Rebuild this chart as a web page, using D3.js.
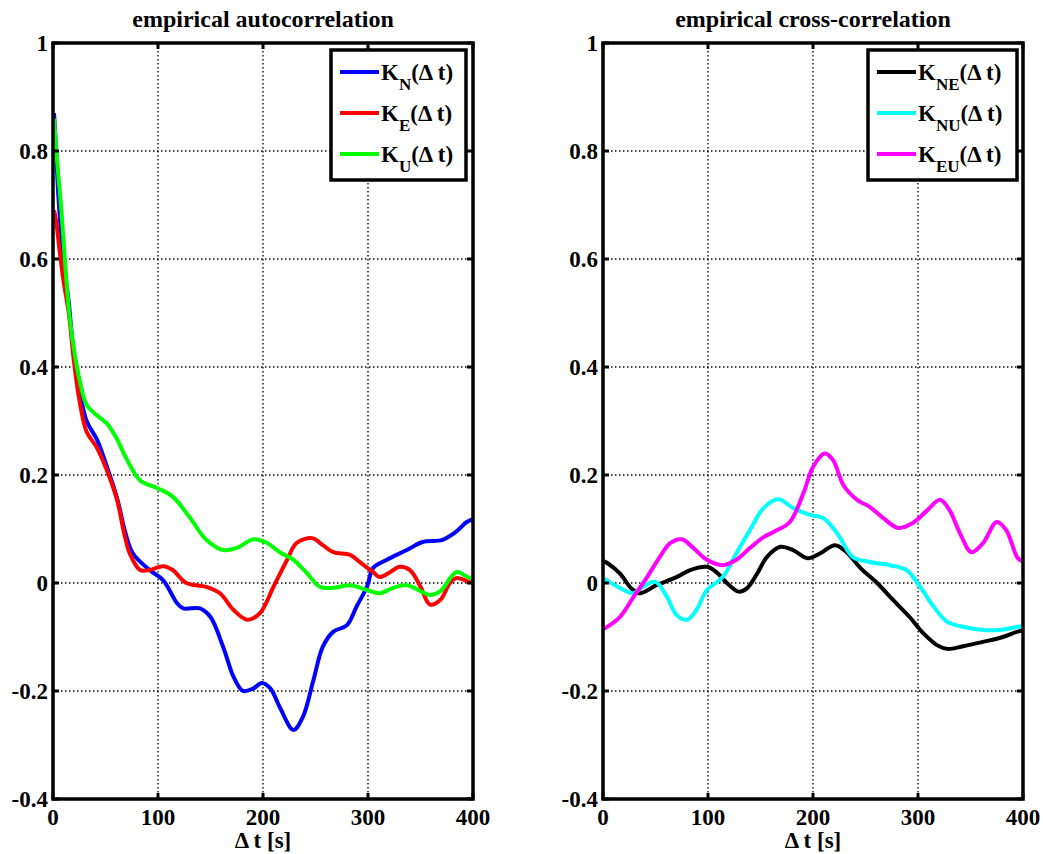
<!DOCTYPE html>
<html><head><meta charset="utf-8">
<script src="https://cdn.jsdelivr.net/npm/d3@7"></script>
<style>
html,body{margin:0;padding:0;background:#fff;}
svg{display:block;}
text{font-family:"Liberation Serif","Times New Roman",serif;font-weight:bold;fill:#000;}
</style></head>
<body>
<script>
// ---- data ----
const xTicks = [0, 100, 200, 300, 400];
const xTickLabels = ["0", "100", "200", "300", "400"];
const yTicks = [-0.4, -0.2, 0, 0.2, 0.4, 0.6, 0.8, 1];
const yTickLabels = ["-0.4", "-0.2", "0", "0.2", "0.4", "0.6", "0.8", "1"];
const xLabel = "\u0394 t [s]";
const titles = ["empirical autocorrelation", "empirical cross-correlation"];

const kN = [[1,0.87],[3,0.80],[5,0.72],[8,0.64],[11,0.58],[15,0.52],[20,0.42],[25,0.36],[32,0.30],[42,0.265],[54,0.20],[62,0.15],[68,0.10],[76,0.055],[92,0.024],[105,0.005],[118,-0.037],[124,-0.047],[140,-0.047],[150,-0.063],[162,-0.118],[172,-0.174],[181,-0.2],[191,-0.195],[199,-0.185],[207,-0.195],[216,-0.23],[229,-0.272],[238,-0.248],[248,-0.18],[257,-0.118],[267,-0.09],[280,-0.078],[289,-0.044],[299,-0.007],[305,0.028],[318,0.043],[337,0.061],[352,0.076],[371,0.08],[384,0.095],[394,0.113],[400,0.118]];
const kE = [[1,0.69],[3,0.67],[6,0.62],[10,0.56],[15,0.50],[20,0.41],[25,0.34],[32,0.28],[42,0.25],[51,0.21],[61,0.154],[68,0.09],[73,0.055],[83,0.024],[92,0.024],[105,0.031],[114,0.024],[127,0.0],[146,-0.007],[159,-0.019],[172,-0.05],[185,-0.068],[197,-0.056],[210,-0.007],[223,0.043],[232,0.074],[247,0.083],[257,0.07],[267,0.057],[283,0.052],[292,0.039],[305,0.02],[311,0.011],[321,0.02],[330,0.03],[340,0.024],[350,-0.007],[359,-0.04],[369,-0.031],[378,0.0],[384,0.009],[395,0.003],[400,0.0]];
const kU = [[1,0.86],[4,0.78],[8,0.69],[12,0.58],[16,0.49],[21,0.42],[26,0.37],[32,0.33],[42,0.31],[51,0.296],[60,0.27],[70,0.23],[83,0.19],[99,0.176],[114,0.16],[130,0.122],[146,0.08],[162,0.061],[175,0.065],[191,0.081],[204,0.074],[216,0.057],[229,0.043],[242,0.018],[254,-0.007],[267,-0.009],[283,-0.004],[299,-0.013],[311,-0.019],[324,-0.009],[337,-0.004],[350,-0.015],[359,-0.022],[369,-0.015],[384,0.02],[395,0.011],[400,0.008]];

const kNE = [[1,0.04],[4,0.037],[16,0.018],[27,-0.01],[35,-0.019],[51,-0.004],[70,0.011],[83,0.024],[99,0.03],[108,0.02],[118,0],[129,-0.016],[137,-0.01],[147,0.018],[156,0.048],[169,0.067],[181,0.061],[195,0.046],[207,0.055],[221,0.07],[232,0.057],[245,0.028],[261,0],[276,-0.031],[292,-0.063],[305,-0.093],[318,-0.115],[328,-0.122],[343,-0.117],[362,-0.109],[381,-0.1],[395,-0.09],[400,-0.088]];
const kNU = [[1,0.008],[16,-0.009],[29,-0.019],[38,-0.007],[50,0.002],[61,-0.026],[70,-0.059],[80,-0.068],[89,-0.05],[99,-0.013],[114,0.011],[127,0.055],[140,0.098],[153,0.139],[167,0.155],[181,0.139],[197,0.126],[210,0.12],[223,0.092],[238,0.048],[254,0.039],[273,0.033],[289,0.024],[302,-0.007],[315,-0.044],[328,-0.072],[343,-0.081],[362,-0.087],[378,-0.087],[395,-0.081],[400,-0.08]];
const kEU = [[1,-0.085],[16,-0.063],[29,-0.026],[42,0.011],[54,0.048],[64,0.074],[75,0.081],[86,0.065],[99,0.043],[114,0.033],[127,0.043],[140,0.065],[153,0.085],[166,0.098],[178,0.113],[191,0.167],[200,0.215],[211,0.24],[219,0.228],[229,0.181],[242,0.154],[254,0.141],[267,0.12],[281,0.102],[295,0.111],[309,0.135],[321,0.154],[330,0.135],[340,0.092],[351,0.057],[362,0.074],[375,0.113],[384,0.098],[395,0.046],[400,0.04]];

const leftNames = [["K","N"],["K","E"],["K","U"]];
const rightNames = [["K","NE"],["K","NU"],["K","EU"]];
const leftColors = ["#0000ff", "#ff0000", "#00ff00"];
const rightColors = ["#000000", "#00ffff", "#ff00ff"];

// ---- drawing ----
const W = 1043, H = 854;
const svg = d3.select("body").append("svg").attr("width", W).attr("height", H);

const pTop = 43, pBottom = 799, pw = 420;
const panels = [
  {x0: 53, title: titles[0], series: [kN, kE, kU], names: leftNames, colors: leftColors, legX: 331, legW: 135},
  {x0: 603, title: titles[1], series: [kNE, kNU, kEU], names: rightNames, colors: rightColors, legX: 868, legW: 149}
];

const y = d3.scaleLinear().domain([-0.4, 1]).range([pBottom, pTop]);

panels.forEach(p => {
  const x = d3.scaleLinear().domain([0, 400]).range([p.x0, p.x0 + pw]);
  const g = svg.append("g");

  // grid
  g.selectAll("line.gx").data(xTicks.slice(1, -1)).enter().append("line")
    .attr("x1", d => x(d)).attr("x2", d => x(d)).attr("y1", pTop).attr("y2", pBottom)
    .attr("stroke", "#000").attr("stroke-width", 1.3).attr("stroke-dasharray", "1.5,2.5");
  g.selectAll("line.gy").data(yTicks.slice(1, -1)).enter().append("line")
    .attr("y1", d => y(d)).attr("y2", d => y(d)).attr("x1", p.x0).attr("x2", p.x0 + pw)
    .attr("stroke", "#000").attr("stroke-width", 1.3).attr("stroke-dasharray", "1.5,2.5");

  // series
  const line = d3.line().x(d => x(d[0])).y(d => y(d[1])).curve(d3.curveCatmullRom.alpha(0.5));
  p.series.forEach((s, i) => {
    g.append("path").datum(s).attr("d", line).attr("fill", "none")
      .attr("stroke", p.colors[i]).attr("stroke-width", 4).attr("stroke-linejoin", "round");
  });

  // ticks (inward, all sides)
  xTicks.forEach(t => {
    g.append("line").attr("x1", x(t)).attr("x2", x(t)).attr("y1", pBottom).attr("y2", pBottom - 6).attr("stroke", "#000").attr("stroke-width", 3);
    g.append("line").attr("x1", x(t)).attr("x2", x(t)).attr("y1", pTop).attr("y2", pTop + 6).attr("stroke", "#000").attr("stroke-width", 3);
  });
  yTicks.forEach(t => {
    g.append("line").attr("y1", y(t)).attr("y2", y(t)).attr("x1", p.x0).attr("x2", p.x0 + 6).attr("stroke", "#000").attr("stroke-width", 3);
    g.append("line").attr("y1", y(t)).attr("y2", y(t)).attr("x1", p.x0 + pw).attr("x2", p.x0 + pw - 6).attr("stroke", "#000").attr("stroke-width", 3);
  });

  // frame
  g.append("rect").attr("x", p.x0).attr("y", pTop).attr("width", pw).attr("height", pBottom - pTop)
    .attr("fill", "none").attr("stroke", "#000").attr("stroke-width", 3.5);

  // tick labels
  g.selectAll("text.xt").data(xTicks).enter().append("text")
    .attr("x", d => x(d)).attr("y", 825).attr("text-anchor", "middle")
    .attr("font-size", 23).text((d, i) => xTickLabels[i]);
  g.selectAll("text.yt").data(yTicks).enter().append("text")
    .attr("x", p.x0 - 5).attr("y", d => y(d)).attr("dy", "0.33em").attr("text-anchor", "end")
    .attr("font-size", 23).text((d, i) => yTickLabels[i]);

  // axis label and title
  g.append("text").attr("x", p.x0 + pw / 2).attr("y", 848).attr("text-anchor", "middle")
    .attr("font-size", 23).text(xLabel);
  g.append("text").attr("x", p.x0 + pw / 2).attr("y", 27).attr("text-anchor", "middle")
    .attr("font-size", 24).text(p.title);

  // legend
  const lg = g.append("g");
  lg.append("rect").attr("x", p.legX).attr("y", 50).attr("width", p.legW).attr("height", 130)
    .attr("fill", "#fff").attr("stroke", "#000").attr("stroke-width", 3.5);
  const rowY = [72, 113, 154];
  p.names.forEach((nm, i) => {
    lg.append("line").attr("x1", p.legX + 9).attr("x2", p.legX + 48).attr("y1", rowY[i]).attr("y2", rowY[i])
      .attr("stroke", p.colors[i]).attr("stroke-width", 4);
    const t = lg.append("text").attr("x", p.legX + 50).attr("y", rowY[i] + 8).attr("font-size", 23);
    t.append("tspan").text(nm[0]);
    t.append("tspan").attr("font-size", 17).attr("dy", 10).text(nm[1]);
    t.append("tspan").attr("dy", -10).text("(\u0394 t)");
  });
});
</script>
</body></html>
